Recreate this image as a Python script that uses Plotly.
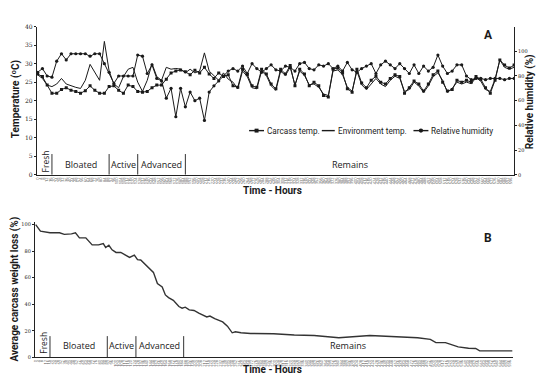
import plotly.graph_objects as go

# ---------------- data ----------------
hours = list(range(0, 601, 6))  # sampling times (h)

carcass_temp = [27.2, 26.5, 24.2, 22.0, 22.0, 23.0, 23.5, 22.8, 22.5, 22.0,
                22.7, 24.0, 22.8, 22.0, 22.0, 23.8, 24.0, 22.8, 22.0, 24.2,
                23.8, 22.5, 22.3, 22.5, 23.5, 24.2, 24.2, 25.8, 27.5, 28.0,
                28.3, 27.8, 27.0, 28.2, 27.5, 29.0, 27.2, 26.0, 27.5, 26.5,
                27.0, 24.0, 23.6, 28.5, 27.0, 24.0, 23.6, 28.5, 27.2, 24.5,
                23.2, 28.5, 27.2, 29.5, 24.0, 28.5, 27.2, 24.0, 25.0, 24.0,
                21.4, 21.0, 28.5, 28.8, 27.5, 23.2, 22.3, 28.5, 24.8, 23.5,
                25.5, 26.6, 25.0, 24.5, 26.0, 27.0, 26.5, 22.0, 23.5, 25.3,
                24.5, 22.6, 24.5, 27.0, 28.0, 25.0, 22.6, 23.0, 25.5, 25.0,
                25.5, 25.0, 26.5, 25.8, 23.5, 22.0, 25.5, 31.0, 29.6, 28.8,
                29.6]

env_temp = [27.0, 26.0, 24.2, 23.8, 24.5, 26.0, 24.5, 24.0, 23.6, 23.3,
            25.5, 29.8, 27.5, 25.5, 36.0, 28.0, 24.5, 23.5, 26.5, 28.5,
            29.0, 25.0, 22.5, 25.5, 30.0, 26.5, 25.5, 29.0, 28.5, 28.7,
            28.5, 27.5, 28.5, 27.5, 28.0, 32.9, 28.0, 26.8, 25.5, 27.5,
            25.8, 25.0, 23.2, 28.0, 26.5, 23.5, 23.2, 28.0, 26.8, 24.0,
            22.8, 28.0, 26.8, 29.0, 24.3, 28.0, 26.8, 24.3, 24.5, 23.6,
            21.8, 21.4, 28.0, 28.3, 27.0, 23.6, 22.6, 28.0, 24.3, 23.0,
            24.5, 26.0, 24.5, 23.8, 25.5, 26.6, 26.0, 22.5, 23.0, 25.0,
            24.0, 22.2, 24.0, 26.5, 27.5, 25.5, 22.2, 23.3, 25.0, 24.5,
            25.0, 24.6, 26.2, 25.3, 23.0, 22.5, 25.8, 31.0, 29.0, 28.5,
            29.0]

humidity = [83, 86, 80, 79, 92, 98, 93, 98, 98, 98,
            98, 96, 98, 98, 90, 83, 74, 80, 80, 80,
            80, 97, 96, 82, 89, 78, 76, 62, 70, 47,
            70, 55, 67, 60, 62, 44, 67, 72, 76, 80,
            84, 86, 84, 88, 82, 90, 86, 83, 86, 89,
            85, 84, 88, 87, 84, 90, 91, 86, 85, 89,
            88, 90, 86, 88, 84, 91, 85, 83, 86, 88,
            90, 82, 89, 92, 89, 86, 90, 86, 82, 89,
            82, 88, 84, 87, 97, 88, 82, 84, 89, 89,
            80, 77, 78, 78, 77, 78, 78, 78, 77, 78,
            78]

weight_hours = [0, 6, 18, 30, 36, 45, 50, 55, 63, 71, 79, 85, 88, 92, 96,
                101, 107, 118, 124, 128, 132, 140, 148, 153, 159, 163, 167,
                173, 180, 184, 188, 193, 199, 205, 211, 215, 219, 225, 235,
                241, 247, 251, 258, 270, 299, 325, 350, 360, 381, 420, 445,
                480, 496, 503, 515, 531, 544, 553, 558, 574, 599]
weight_loss = [100, 95, 93.8, 93.8, 92.6, 93.0, 93.8, 90.0, 90.0, 84.7, 84.7,
               85.7, 82.7, 84.4, 81.0, 79.0, 79.0, 75.3, 77.0, 73.6, 73.3, 69.0,
               64.0, 55.6, 53.0, 47.0, 45.0, 43.0, 38.3, 37.0, 37.8, 35.8, 35.3,
               33.3, 31.6, 30.4, 31.1, 29.1, 26.7, 23.5, 18.5, 19.3, 18.5, 18.0,
               17.8, 16.8, 16.5, 16.0, 14.8, 16.5, 16.0, 14.8, 13.6, 11.1, 11.1,
               7.9, 6.9, 6.7, 4.9, 4.9, 4.9]

tick_hours = list(range(0, 600, 4))
tick_labels = [str(h) for h in tick_hours]

stage_names = ["Fresh", "Bloated", "Active", "Advanced", "Remains"]
stage_bounds = [0, 18, 90, 126, 186, 600]

legend_names = ["Carcass temp.", "Environment temp.", "Relative humidity"]

# ---------------- figure ----------------
FONT = "Open Sans"
NARROW = "Liberation Sans Narrow, Roboto, Open Sans"
INK = "#1a1a1a"
fig = go.Figure()

fig.add_trace(go.Scatter(x=hours, y=carcass_temp, name=legend_names[0],
                         mode="lines+markers", line=dict(color=INK, width=1.0),
                         marker=dict(symbol="square", size=3, color=INK),
                         xaxis="x", yaxis="y"))
fig.add_trace(go.Scatter(x=hours, y=env_temp, name=legend_names[1],
                         mode="lines", line=dict(color=INK, width=1.0),
                         xaxis="x", yaxis="y"))
fig.add_trace(go.Scatter(x=hours, y=humidity, name=legend_names[2],
                         mode="lines+markers", line=dict(color=INK, width=1.0),
                         marker=dict(symbol="circle", size=3.2, color=INK),
                         xaxis="x", yaxis="y2"))
fig.add_trace(go.Scatter(x=weight_hours, y=weight_loss, mode="lines",
                         line=dict(color="#333333", width=1.4),
                         xaxis="x2", yaxis="y3"))

xcommon = dict(range=[-1, 600], tickmode="array", tickvals=tick_hours,
               ticktext=tick_labels, tickangle=-90,
               tickfont=dict(size=4, color="#555555", family=FONT),
               ticks="", showline=True, linecolor="#222222", linewidth=1,
               showgrid=False, zeroline=False)

fig.update_layout(
    width=540, height=379, margin=dict(l=0, r=0, t=0, b=0),
    paper_bgcolor="white", plot_bgcolor="white",
    font=dict(family=FONT, color="#222222"),
    showlegend=False,
    xaxis=dict(domain=[0.0648, 0.9519], anchor="y", **xcommon),
    yaxis=dict(domain=[0.5409, 0.9393], range=[0, 40], dtick=5,
               showline=True, linecolor="#222222", linewidth=1,
               ticks="outside", ticklen=2, tickcolor="#222222",
               tickfont=dict(size=6, family="DejaVu Serif"),
               showgrid=False, zeroline=False, anchor="x"),
    yaxis2=dict(overlaying="y", side="right", range=[0, 120],
                tickvals=[0, 20, 40, 60, 80, 100],
                showline=True, linecolor="#222222", linewidth=1,
                ticks="outside", ticklen=2, tickcolor="#222222",
                tickfont=dict(size=5, family="DejaVu Serif"),
                showgrid=False, zeroline=False, anchor="x"),
    xaxis2=dict(domain=[0.0611, 0.95], anchor="y3", **xcommon),
    yaxis3=dict(domain=[0.0501, 0.4142], range=[0, 102],
                tickvals=[0, 20, 40, 60, 80, 100],
                showline=True, linecolor="#222222", linewidth=1,
                ticks="outside", ticklen=2, tickcolor="#222222",
                tickfont=dict(size=5, family="DejaVu Serif"),
                showgrid=False, zeroline=False, anchor="x2"),
)

shapes = []
annotations = []
# stage separators and labels
for xref, yref, ytop, ylab in [("x", "y", 5.6, 2.9), ("x2", "y3", 16, 9)]:
    for b in stage_bounds[1:-1]:
        shapes.append(dict(type="line", xref=xref, yref=yref, x0=b, x1=b,
                           y0=0, y1=ytop, line=dict(color="#333333", width=1)))
    for i, name in enumerate(stage_names):
        cx = (stage_bounds[i] + stage_bounds[i + 1]) / 2
        annotations.append(dict(xref=xref, yref=yref, x=cx + (1 if i == 0 else 0),
                                y=ylab if i else ylab + 0.6 * (ytop / 5.6),
                                xanchor="center", yanchor="middle",
                                text=name, showarrow=False,
                                textangle=-90 if i == 0 else 0,
                                font=dict(size=9 if i else 8.5, family=FONT, color="#222222")))

# hand-built compact legend (glyph + label) in pixel-based paper coords
W, H = 540.0, 379.0
leg_y = 1 - 129 / H
leg_items = [(248, 263, "square", legend_names[0]),
             (321, 334, None, legend_names[1]),
             (413, 428, "circle", legend_names[2])]
for x0, x1, sym, label in leg_items:
    shapes.append(dict(type="line", xref="paper", yref="paper", x0=x0 / W, x1=x1 / W,
                       y0=leg_y, y1=leg_y, line=dict(color=INK, width=1.4)))
    if sym == "square":
        cx = (x0 + x1) / 2
        shapes.append(dict(type="rect", xref="paper", yref="paper",
                           x0=(cx - 2) / W, x1=(cx + 2) / W,
                           y0=leg_y - 2 / H, y1=leg_y + 2 / H,
                           fillcolor=INK, line=dict(width=0)))
    elif sym == "circle":
        cx = (x0 + x1) / 2
        shapes.append(dict(type="circle", xref="paper", yref="paper",
                           x0=(cx - 2.2) / W, x1=(cx + 2.2) / W,
                           y0=leg_y - 2.2 / H, y1=leg_y + 2.2 / H,
                           fillcolor=INK, line=dict(width=0)))
    annotations.append(dict(xref="paper", yref="paper", x=(x1 + 1) / W, y=leg_y,
                            xanchor="left", yanchor="middle", text=label,
                            showarrow=False,
                            font=dict(size=8.2, family=NARROW, color="#222222")))

def label(x, y, text, size=10, angle=0):
    return dict(xref="paper", yref="paper", x=x / W, y=1 - y / H, text=text,
                xanchor="center", yanchor="middle", textangle=angle,
                showarrow=False, font=dict(size=size, family=NARROW, color="#1a1a1a"))

annotations += [
    label(272, 190, "<b>Time - Hours</b>", 10),
    label(272, 372, "<b>Time - Hours</b>", 10),
    label(14, 97, "<b>Temperature (ºC)</b>", 10, -90),
    label(530, 100, "<b>Relative humidity (%)</b>", 10, -90),
    label(13, 290, "<b>Average carcass weight loss (%)</b>", 10, -90),
    label(488, 32, "<b>A</b>", 12),
    label(488, 238, "<b>B</b>", 12),
]

fig.update_layout(shapes=shapes, annotations=annotations)
fig.write_html("out.html")
